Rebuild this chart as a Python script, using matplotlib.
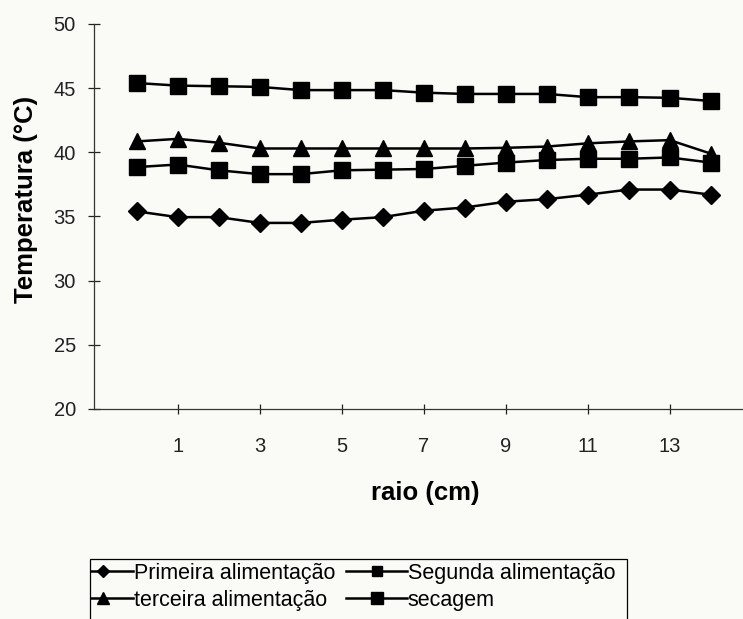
import matplotlib
matplotlib.use("Agg")
import matplotlib.pyplot as plt
from matplotlib.lines import Line2D
from matplotlib.patches import Rectangle
from matplotlib.transforms import Bbox, TransformedBbox
import numpy as np

plt.rcParams['font.family'] = ['Liberation Sans', 'DejaVu Sans']

# =========================
# DATA
# =========================
raio = np.arange(0, 15)

primeira = [35.4, 34.95, 34.95, 34.5, 34.5, 34.75, 34.95, 35.45, 35.7, 36.15, 36.35, 36.7, 37.1, 37.1, 36.7]
segunda = [38.85, 39.05, 38.6, 38.3, 38.3, 38.6, 38.65, 38.7, 38.95, 39.2, 39.4, 39.5, 39.5, 39.6, 39.2]
terceira = [40.85, 41.05, 40.75, 40.3, 40.3, 40.3, 40.3, 40.3, 40.3, 40.35, 40.45, 40.7, 40.85, 40.95, 39.9]
secagem = [45.4, 45.2, 45.15, 45.1, 44.85, 44.85, 44.85, 44.65, 44.55, 44.55, 44.55, 44.3, 44.3, 44.25, 44.0]

xticks = [1, 3, 5, 7, 9, 11, 13]
yticks = [20, 25, 30, 35, 40, 45, 50]

labels = ["Primeira alimentação", "Segunda alimentação",
          "terceira alimentação", "secagem"]

# =========================
# FIGURE
# =========================
bg = "#fafaf6"
W, H = 743, 619
fig = plt.figure(figsize=(W/100, H/100), dpi=100, facecolor=bg)
ax = fig.add_axes([94/W, 1 - 409/H, 666/W, 385/H])
ax.set_facecolor(bg)

lw = 1.8
l1, = ax.plot(raio, primeira, color="black", lw=lw, marker="D", ms=9, label=labels[0])
l2, = ax.plot(raio, segunda, color="black", lw=lw, marker="s", ms=11, label=labels[1])
l3, = ax.plot(raio, terceira, color="black", lw=lw, marker="^", ms=12, label=labels[2])
l4, = ax.plot(raio, secagem, color="black", lw=lw, marker="s", ms=12, label=labels[3])

ax.set_xlim(-1.04, 15.2)
ax.set_ylim(20, 50)
ax.set_xticks(xticks)
ax.set_yticks(yticks)

for s in ["top", "right"]:
    ax.spines[s].set_visible(False)
for s in ["left", "bottom"]:
    ax.spines[s].set_linewidth(0.9)
    ax.spines[s].set_color("#333333")

ax.tick_params(axis="x", direction="inout", length=7, width=0.9, pad=17,
               labelsize=14.5, colors="#222222")
ax.tick_params(axis="y", direction="inout", length=8, width=0.9, pad=9,
               labelsize=14.5, colors="#222222")

ax.set_xlabel("raio (cm)", fontsize=18.5, fontweight="bold", va="center")
ax.xaxis.set_label_coords(0.497, -0.218)
ax.set_ylabel("Temperatura (°C)", fontsize=18.5, fontweight="bold", va="center")
ax.yaxis.set_label_coords((26 - 94) / 666, 0.544)

# =========================
# LEGEND (Excel style box, cut at the bottom of the page)
# =========================
leg = fig.legend([l1, l3, l2, l4], [labels[0], labels[2], labels[1], labels[3]],
                 loc="upper left", bbox_to_anchor=(73/W, 1 - 563/H),
                 ncol=2, fontsize=15.5, frameon=False,
                 borderpad=0, labelspacing=0.26, handlelength=2.8,
                 handletextpad=0.05, columnspacing=0.5, markerscale=0.7,
                 borderaxespad=0)

# the left part of the first column handles is hidden by the box edge
clip = TransformedBbox(Bbox([[90/W, 0], [1, 1]]), fig.transFigure)
for ln in leg.findobj(Line2D):
    ln.set_clip_box(clip)
    ln.set_clip_on(True)

box = Rectangle((90/W, -0.1), (627 - 90)/W, (1 - 559/H) + 0.1,
                transform=fig.transFigure, fill=False, ec="black", lw=0.9)
fig.add_artist(box)

fig.savefig("out.png", dpi=100, facecolor=bg)
